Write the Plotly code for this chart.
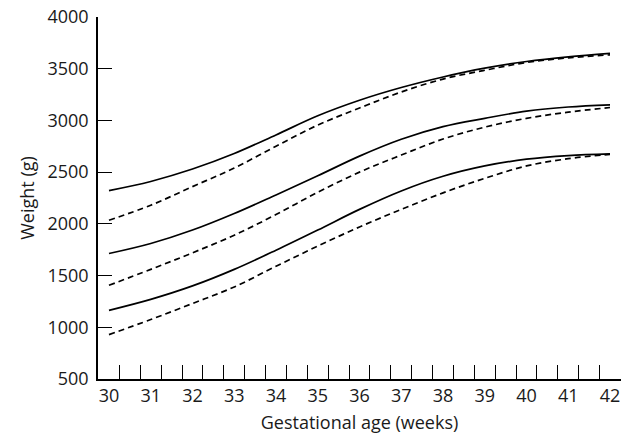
import plotly.graph_objects as go

weeks = [30, 31, 32, 33, 34, 35, 36, 37, 38, 39, 40, 41, 42]

upper_solid = [2322, 2410, 2530, 2680, 2860, 3045, 3195, 3318, 3420, 3505, 3570, 3615, 3648]
upper_dashed = [2035, 2180, 2360, 2540, 2750, 2955, 3120, 3275, 3400, 3485, 3560, 3605, 3634]
middle_solid = [1713, 1810, 1940, 2100, 2280, 2465, 2655, 2818, 2940, 3020, 3090, 3130, 3151]
middle_dashed = [1406, 1560, 1720, 1890, 2090, 2305, 2500, 2665, 2820, 2935, 3020, 3080, 3125]
lower_solid = [1164, 1270, 1400, 1560, 1745, 1940, 2140, 2318, 2460, 2560, 2625, 2660, 2677]
lower_dashed = [929, 1075, 1230, 1390, 1590, 1785, 1970, 2140, 2300, 2440, 2560, 2630, 2672]

x_tick_labels = [str(w) for w in weeks]
x_minor_ticks = sorted([w + 0.25 for w in weeks[:-1]] + [w + 0.75 for w in weeks[:-1]])
y_ticks = [500, 1000, 1500, 2000, 2500, 3000, 3500, 4000]

FONT = "Open Sans"

fig = go.Figure()
series = [
    (upper_solid, "solid"), (upper_dashed, "dash"),
    (middle_solid, "solid"), (middle_dashed, "dash"),
    (lower_solid, "solid"), (lower_dashed, "dash"),
]
for vals, style in series:
    fig.add_trace(go.Scatter(
        x=weeks, y=vals, mode="lines",
        line=dict(color="black", width=1.7,
                  dash="solid" if style == "solid" else "6px,4px",
                  shape="spline", smoothing=1.0),
        showlegend=False, hoverinfo="skip", cliponaxis=False,
    ))

fig.update_layout(
    width=621, height=436,
    margin=dict(l=98, r=0, t=17, b=57),
    paper_bgcolor="white", plot_bgcolor="white",
    font=dict(family=FONT, size=18, color="#1a1a1a"),
    xaxis=dict(
        range=[29.737, 42.263], automargin=False,
        tickvals=weeks, ticktext=x_tick_labels,
        ticks="", showgrid=False, zeroline=False,
        showline=True, linecolor="black", linewidth=1.5,
        tickfont=dict(size=18),
        title=dict(text="Gestational age (weeks)", font=dict(size=18), standoff=10),
        minor=dict(tickvals=x_minor_ticks, ticks="inside", ticklen=14,
                   tickwidth=1.3, tickcolor="black", showgrid=False),
    ),
    yaxis=dict(
        range=[500, 4000], automargin=False,
        tickvals=y_ticks,
        ticks="inside", ticklen=14, tickwidth=1.3, tickcolor="black",
        showgrid=False, zeroline=False,
        showline=True, linecolor="black", linewidth=1.5,
        tickfont=dict(size=18), ticklabelstandoff=4,
        title=dict(text="Weight (g)", font=dict(size=18), standoff=8),
    ),
)

fig.write_html(
    "out.html",
    config={"displayModeBar": False},
    post_script="document.body.style.margin='0';document.body.style.overflow='hidden';",
)
